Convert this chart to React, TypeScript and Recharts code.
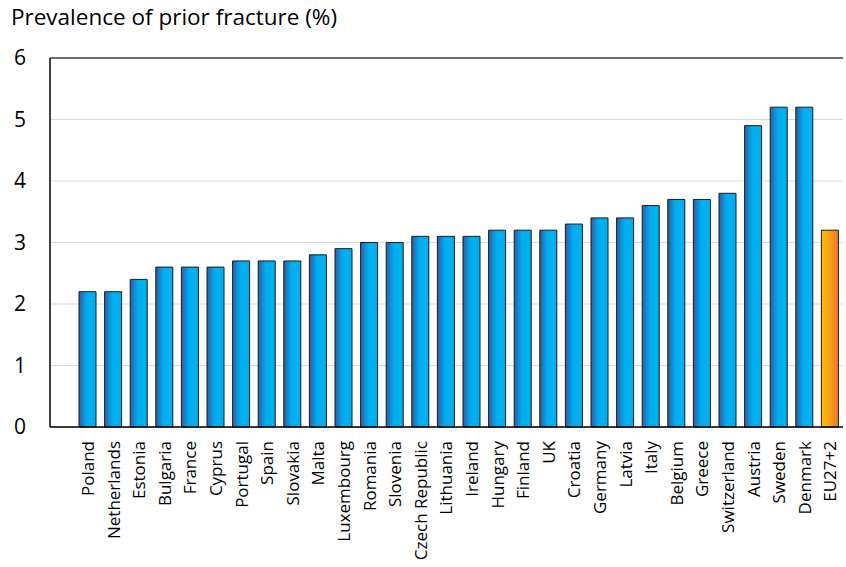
import React from "react";
import { BarChart, Bar, XAxis, YAxis, CartesianGrid, Cell, ReferenceLine } from "recharts";

const countries = [
  "Poland", "Netherlands", "Estonia", "Bulgaria", "France", "Cyprus", "Portugal", "Spain",
  "Slovakia", "Malta", "Luxembourg", "Romania", "Slovenia", "Czech Republic", "Lithuania",
  "Ireland", "Hungary", "Finland", "UK", "Croatia", "Germany", "Latvia", "Italy", "Belgium",
  "Greece", "Switzerland", "Austria", "Sweden", "Denmark", "EU27+2",
];
const prevalence = [
  2.2, 2.2, 2.4, 2.6, 2.6, 2.6, 2.7, 2.7, 2.7, 2.8, 2.9, 3.0, 3.0, 3.1, 3.1,
  3.1, 3.2, 3.2, 3.2, 3.3, 3.4, 3.4, 3.6, 3.7, 3.7, 3.8, 4.9, 5.2, 5.2, 3.2,
];
const highlighted = ["EU27+2"];
const yTicks = [0, 1, 2, 3, 4, 5, 6];
const title = "Prevalence of prior fracture (%)";

const data = countries.map((c, i) => ({ country: c, value: prevalence[i] }));

const FONT = "'Open Sans', 'Liberation Sans', sans-serif";

const XTick = (props: any) => {
  const { x, y, payload } = props;
  return (
    <text
      x={x}
      y={y}
      transform={`rotate(-90, ${x}, ${y})`}
      textAnchor="end"
      dy="0.36em"
      fontSize={17}
      fontFamily={FONT}
      fill="#000"
    >
      {payload.value}
    </text>
  );
};

export default function App() {
  return (
    <div style={{ position: "absolute", left: 0, top: 0, width: 846, height: 567, background: "#fff" }}>
      <div
        style={{
          position: "absolute",
          left: 11,
          top: 1,
          fontFamily: FONT,
          fontSize: 22.5,
          color: "#000",
          whiteSpace: "nowrap",
        }}
      >
        {title}
      </div>
      <BarChart
        width={846}
        height={567}
        data={data}
        margin={{ top: 58, right: 3, left: 0, bottom: 0 }}
        barSize={17}
      >
        <defs>
          <linearGradient id="blueGrad" x1="0" y1="0" x2="1" y2="0">
            <stop offset="0%" stopColor="#2b5fa6" />
            <stop offset="45%" stopColor="#00aeef" />
            <stop offset="100%" stopColor="#00b0f0" />
          </linearGradient>
          <linearGradient id="orangeGrad" x1="0" y1="0" x2="1" y2="0">
            <stop offset="0%" stopColor="#ffc000" />
            <stop offset="100%" stopColor="#ec7a2c" />
          </linearGradient>
        </defs>
        <CartesianGrid vertical={false} stroke="#d9d9d9" />
        <XAxis
          dataKey="country"
          interval={0}
          padding={{ left: 25, right: 0 }}
          height={140}
          tickLine={false}
          tickSize={0}
          tickMargin={14}
          axisLine={{ stroke: "#000", strokeWidth: 1.5 }}
          tick={<XTick />}
        />
        <YAxis
          domain={[0, 6]}
          ticks={yTicks}
          width={50}
          tickLine={false}
          tickSize={0}
          tickMargin={24}
          axisLine={{ stroke: "#000", strokeWidth: 1.5 }}
          tick={{ fontSize: 21, fontFamily: FONT, fill: "#000" }}
          interval={0}
        />
        <YAxis
          yAxisId="right"
          orientation="right"
          domain={[0, 6]}
          width={0}
          tick={false}
          tickLine={false}
          axisLine={{ stroke: "#000", strokeWidth: 1.5 }}
        />
        <ReferenceLine y={6} stroke="#444" strokeWidth={1.5} />
        <Bar dataKey="value" stroke="#1a1a1a" strokeWidth={1} isAnimationActive={false}>
          {data.map((d) => (
            <Cell
              key={d.country}
              fill={highlighted.includes(d.country) ? "url(#orangeGrad)" : "url(#blueGrad)"}
            />
          ))}
        </Bar>
      </BarChart>
    </div>
  );
}
